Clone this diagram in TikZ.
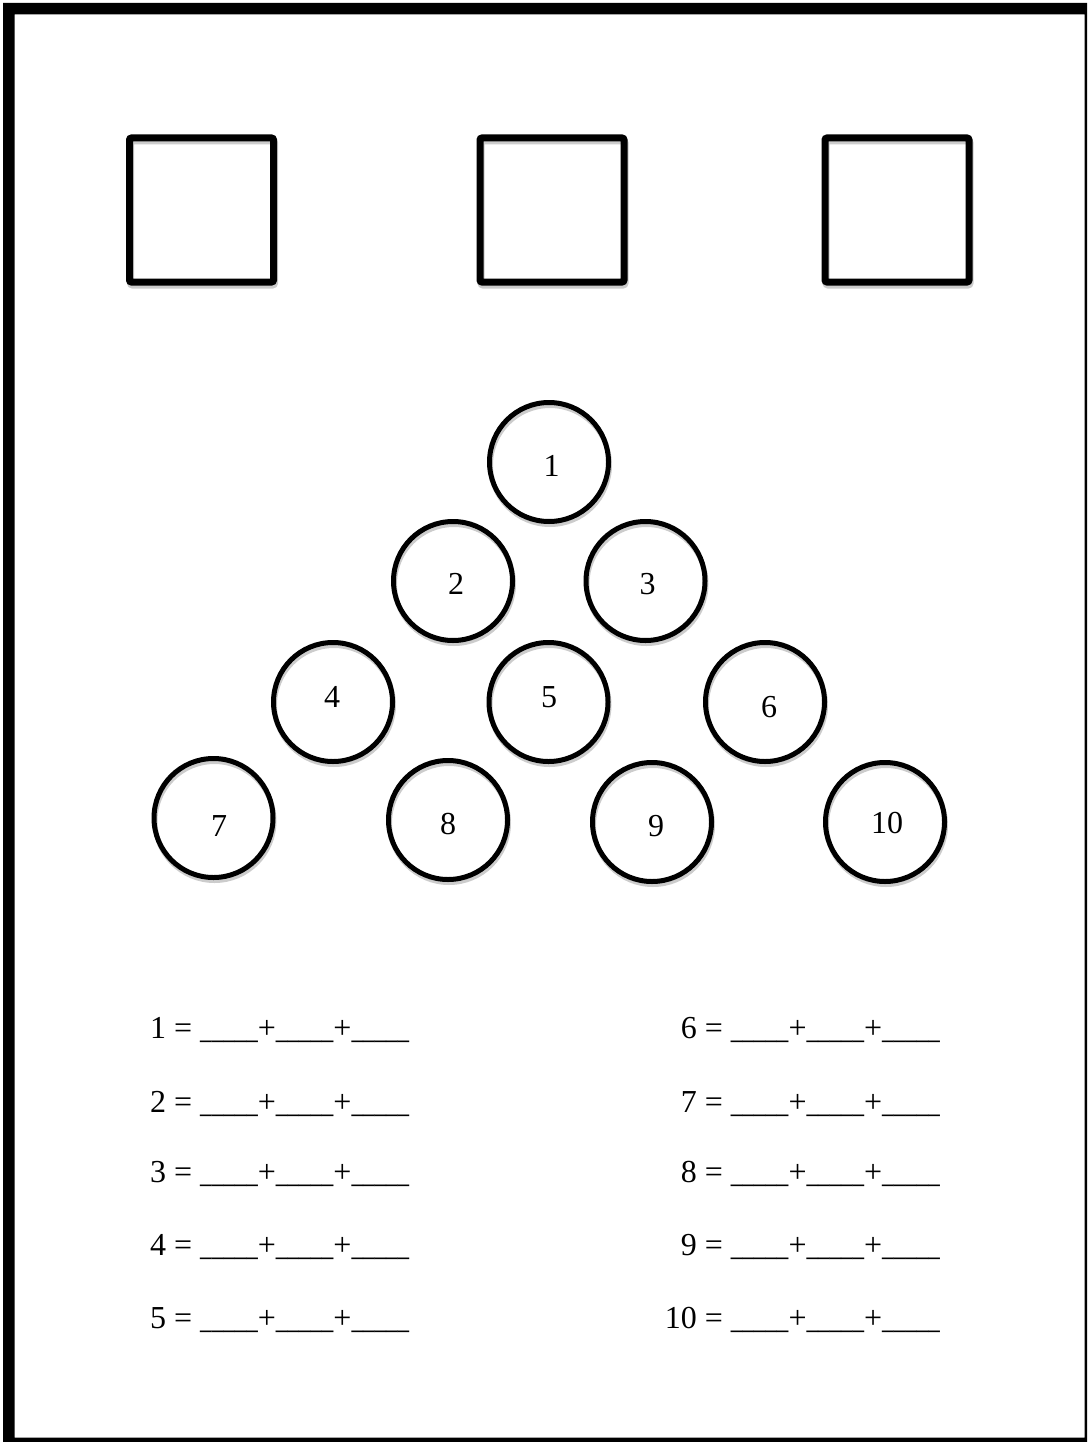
\documentclass[tikz,border=0pt]{standalone}
\usepackage{tikz , graphicx}
\usepackage{fontspec}
\setmainfont{Liberation Serif}
\newcommand{\blank}{\scalebox{0.72}[1]{\_\_\_\_\_}}

\begin{document}
\begin{tikzpicture}[x=1pt,y=-1pt,
    ring/.style={circle,draw,line width=5pt,minimum size=119pt,inner sep=0},
    ringshadow/.style={ring,draw=black!20},
    box/.style={rectangle,draw,line width=7pt,minimum size=144pt,rounded corners=2pt,inner sep=0},
    boxshadow/.style={box,draw=black!20},
    num/.style={font=\fontsize{32}{38}\selectfont,inner sep=0}]%

\useasboundingbox (0,0) rectangle (1087,1442);
\fill[even odd rule] (3,3) rectangle (1087,1442) (14.5,14.5) rectangle (1084.5,1437.5);

% boxes on top
\foreach \n/\x in {1/201.5,2/552,3/897} {
    \node[boxshadow] at (\x+1,213) {};
    \node[box] (box\n) at (\x,210) {};
}

% circles
\foreach \n/\cx/\cy/\tx/\ty in {1/549/462/551.5/465.5, 2/453/581/456/584, 3/645.5/581/647.5/584,
        4/333/702/332/697, 5/548.5/702/549/697, 6/765/702/769/707,
        7/213.5/818/219/826, 8/448/820/448/824, 9/652/822/656/826, 10/885/822/887/823} {
    \node[ringshadow] at (\cx+1,\cy+3) {};
    \node[ring] (c\n) at (\cx,\cy) {};
    \node[num] (t\n) at (\tx,\ty) {\n};
}

% sums
\foreach \n/\y in {1/1038,2/1112,3/1182,4/1255,5/1328} {
    \node[num,anchor=base west] (sumL\n) at (150,\y) {\n{} = \blank+\blank+\blank};
}
\foreach \n/\y in {6/1038,7/1112,8/1182,9/1255,10/1328} {
    \node[num,anchor=base east] (sumR\n) at (940,\y) {\n{} = \blank+\blank+\blank};
}

\end{tikzpicture}
\end{document}
